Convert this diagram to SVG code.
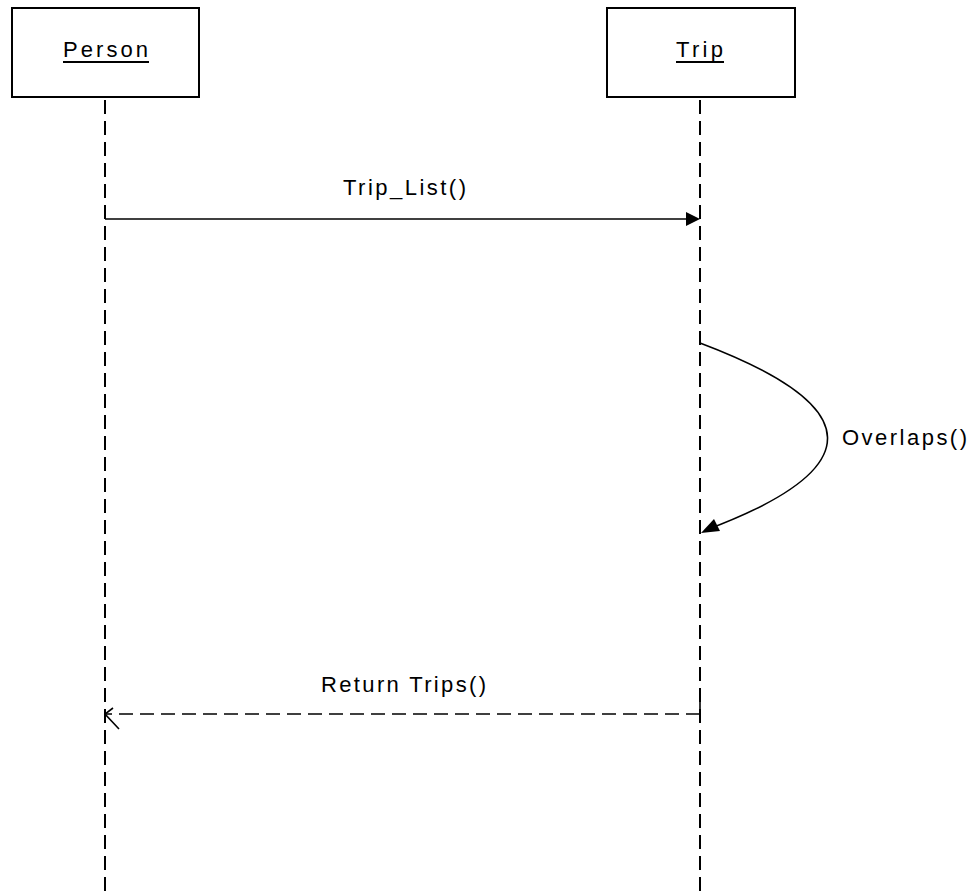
<svg xmlns="http://www.w3.org/2000/svg" width="974" height="895" viewBox="0 0 974 895">
<style>
.box{fill:#fff;stroke:#000;stroke-width:2}
.lbl{font-family:"Liberation Sans",Arial,sans-serif;font-size:22px;fill:#000}
.ul{stroke:#000;stroke-width:1.8}
.life{stroke:#000;stroke-width:2;stroke-dasharray:14 7;fill:none}
.msg{stroke:#000;stroke-width:1.6;fill:none}
.ret{stroke:#000;stroke-width:1.6;stroke-dasharray:14 7;fill:none}
</style>
<rect width="974" height="895" fill="#fff"/>
<g id="person">
<rect class="box" x="12" y="8" width="187" height="89"/>
<text class="lbl" x="63" y="57" textLength="85" lengthAdjust="spacing">Person</text>
<line class="ul" x1="63" y1="62" x2="149" y2="62"/>
</g>
<g id="trip">
<rect class="box" x="607" y="8" width="188" height="89"/>
<text class="lbl" x="676" y="57" textLength="47" lengthAdjust="spacing">Trip</text>
<line class="ul" x1="676" y1="62" x2="724" y2="62"/>
</g>
<g id="connectors">
<line class="life" x1="105" y1="100" x2="105" y2="895"/>
<line class="life" x1="700" y1="100" x2="700" y2="895"/>
<line class="msg" x1="105" y1="219" x2="690" y2="219"/>
<polygon points="700,219 686,212 686,226" fill="#000"/>
<text class="lbl" x="343" y="195" textLength="123" lengthAdjust="spacing">Trip_List()</text>
<path class="msg" d="M700,343 Q952,438 706,530"/>
<polygon points="701,533 714,519 720,531" fill="#000"/>
<text class="lbl" x="842" y="445" textLength="125" lengthAdjust="spacing">Overlaps()</text>
<line class="ret" x1="700" y1="714" x2="106" y2="714"/>
<line class="ret" x1="700" y1="700" x2="700" y2="714" stroke-dasharray="none"/>
<polyline class="msg" points="113,708 105,714 119,729"/>
<text class="lbl" x="321" y="692" textLength="165" lengthAdjust="spacing">Return Trips()</text>
</g>
</svg>
